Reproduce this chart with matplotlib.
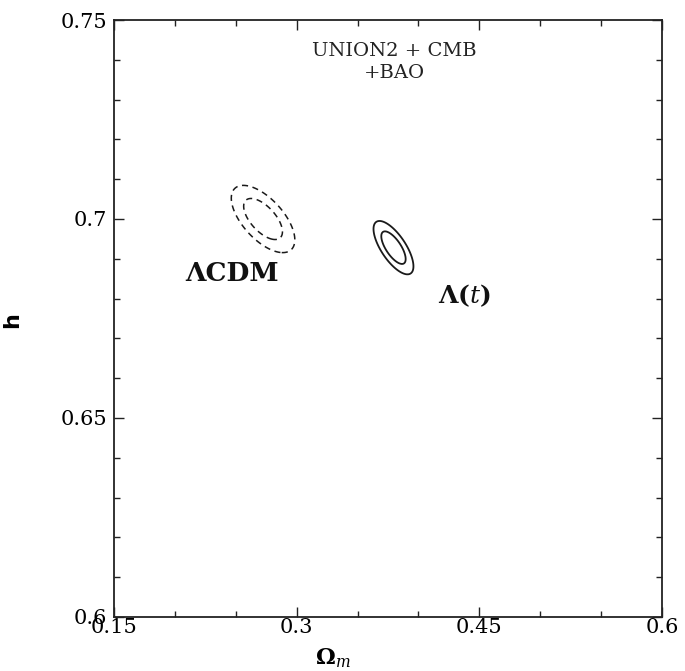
import numpy as np
import matplotlib
matplotlib.use("Agg")
import matplotlib.pyplot as plt
from matplotlib.ticker import MultipleLocator, FixedLocator, FixedFormatter

plt.rcParams["font.family"] = ["DejaVu Serif"]
plt.rcParams["mathtext.fontset"] = "dejavuserif"

# axis ranges and tick labels
x_range = [0.15, 0.6]
y_range = [0.6, 0.75]
x_ticks = [0.15, 0.3, 0.45, 0.6]
x_tick_labels = ["0.15", "0.3", "0.45", "0.6"]
y_ticks = [0.6, 0.65, 0.7, 0.75]
y_tick_labels = ["0.6", "0.65", "0.7", "0.75"]

# best fit and gaussian errors (Omega_m, h)
models = ["LCDM", "Lambda(t)"]
center_om = [0.2724, 0.3795]
center_h = [0.7000, 0.6928]
sigma_om = [0.0105, 0.0066]
sigma_h = [0.0034, 0.0027]
corr = [-0.62, -0.70]
chi2_levels = [2.30, 6.17]


def chi2_map(X, Y, mx, my, sx, sy, r):
    dx = (X - mx) / sx
    dy = (Y - my) / sy
    return (dx ** 2 - 2 * r * dx * dy + dy ** 2) / (1 - r ** 2)


fig = plt.figure(figsize=(6.85, 6.71), dpi=100)
ax = fig.add_axes([114 / 685, 54 / 671, 548 / 685, 597 / 671])

gx = np.linspace(x_range[0], x_range[1], 900)
gy = np.linspace(y_range[0], y_range[1], 900)
X, Y = np.meshgrid(gx, gy)

styles = [dict(linestyles=[(0, (4, 3))], linewidths=1.1), dict(linestyles="solid", linewidths=1.3)]
for i, name in enumerate(models):
    Z = chi2_map(X, Y, center_om[i], center_h[i], sigma_om[i], sigma_h[i], corr[i])
    ax.contour(X, Y, Z, levels=chi2_levels, colors="#1a1a1a", **styles[i])

ax.set_xlim(*x_range)
ax.set_ylim(*y_range)

ax.xaxis.set_major_locator(FixedLocator(x_ticks))
ax.xaxis.set_major_formatter(FixedFormatter(x_tick_labels))
ax.yaxis.set_major_locator(FixedLocator(y_ticks))
ax.yaxis.set_major_formatter(FixedFormatter(y_tick_labels))
ax.xaxis.set_minor_locator(MultipleLocator(0.05))
ax.yaxis.set_minor_locator(MultipleLocator(0.01))

ax.tick_params(which="both", direction="in", top=True, right=True, width=1.0, color="#222222")
ax.tick_params(which="major", length=7)
ax.tick_params(which="minor", length=4.5)
ax.tick_params(axis="x", which="major", pad=1, labelsize=15)
ax.tick_params(axis="y", which="major", pad=5, labelsize=15)
for s in ax.spines.values():
    s.set_linewidth(1.3)
    s.set_color("#222222")

ax.set_xlabel(r"$\mathbf{\Omega}_{\mathit{m}}$", fontsize=16)
ax.xaxis.set_label_coords(0.40, -0.050)
ax.set_ylabel("h", fontsize=16, fontweight="bold", family="DejaVu Sans")
ax.yaxis.set_label_coords(-0.168, 0.497)

ax.text(0.380, 0.7394, "UNION2 + CMB\n+BAO", ha="center", va="center",
        multialignment="center", fontsize=14, linespacing=1.25, color="#222222")
ax.text(0.2469, 0.6864, "ΛCDM", ha="center", va="center", fontsize=19,
        fontweight="bold", color="#111111")
ax.text(0.4374, 0.6807, r"$\mathbf{\Lambda(}\mathit{t}\mathbf{)}$", ha="center",
        va="center", fontsize=18, color="#111111")

fig.savefig("out.png", dpi=100)
